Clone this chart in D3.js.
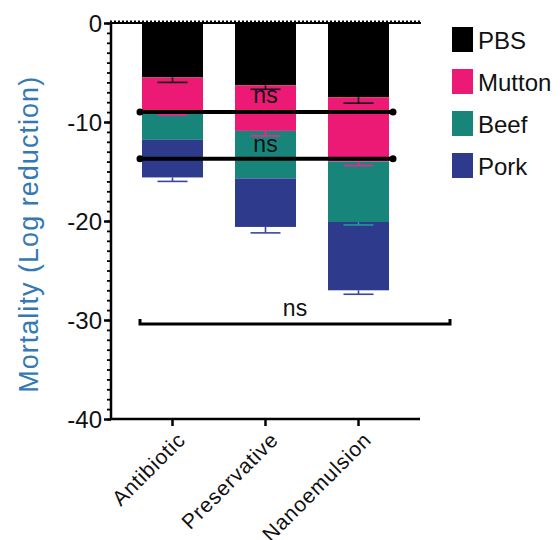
<!DOCTYPE html>
<html>
<head>
<meta charset="utf-8">
<script src="https://cdn.jsdelivr.net/npm/d3@7"></script>
<style>
  body { margin: 0; background: #fff; }
  text { font-family: "Liberation Sans", Arial, sans-serif; }
</style>
</head>
<body>
<div id="chart"></div>
<script>
// mortality per treatment, one array per meat (log reduction, stacked)
var categories = ["Antibiotic", "Preservative", "Nanoemulsion"];
var series = ["PBS", "Mutton", "Beef", "Pork"];
var pbs    = [-5.5, -6.3, -7.5];
var mutton = [-3.5, -4.6, -6.5];
var beef   = [-2.8, -4.8, -6.1];
var pork   = [-3.8, -4.9, -6.9];
var pbsErr    = [0.5, 0.4, 0.6];
var muttonErr = [0.3, 0.5, 0.4];
var beefErr   = [0, 0, 0.3];
var porkErr   = [0.4, 0.6, 0.4];
var yTicks = [0, -10, -20, -30, -40];
var colors = ["#000000", "#ec1a74", "#17857a", "#2e3a8c"];
// significance annotations: level, first and last category
var sigLevels = [-9.0, -13.7];
var sigText = ["ns", "ns"];
var bracketLevel = -30.4;
var bracketText = "ns";

var values = [pbs, mutton, beef, pork];
var errs = [pbsErr, muttonErr, beefErr, porkErr];

var width = 560, height = 540;
var svg = d3.select("#chart").append("svg")
    .attr("width", width)
    .attr("height", height);

var x = d3.scaleBand()
    .domain(categories)
    .range([126, 405])
    .paddingInner(0.344)
    .paddingOuter(0.172);
var y = d3.scaleLinear().domain([-40, 0]).range([419, 23]);
var color = d3.scaleOrdinal().domain(series).range(colors);

var table = categories.map(function (c, i) {
    var row = { cat: c };
    series.forEach(function (s, j) { row[s] = values[j][i]; });
    return row;
});
var stacked = d3.stack().keys(series).offset(d3.stackOffsetDiverging)(table);

// bars (negative stack: d[0] is the lower end)
var layers = svg.append("g").selectAll("g")
    .data(stacked)
    .enter().append("g")
    .attr("fill", function (d) { return color(d.key); });

layers.selectAll("rect")
    .data(function (d) { return d; })
    .enter().append("rect")
    .attr("x", function (d) { return x(d.data.cat); })
    .attr("width", x.bandwidth())
    .attr("y", function (d) { return y(d[1]); })
    .attr("height", function (d) { return y(d[0]) - y(d[1]); });

// error bars
var cap = 15;
stacked.forEach(function (layer, j) {
    layer.forEach(function (d, i) {
        var e = errs[j][i];
        if (!e) return;
        var cx = x(d.data.cat) + x.bandwidth() / 2;
        var g = svg.append("g")
            .attr("stroke", j === 0 ? "#111" : d3.color(colors[j]).brighter(0.5))
            .attr("stroke-width", 1.6);
        g.append("line").attr("x1", cx).attr("x2", cx)
            .attr("y1", y(d[0])).attr("y2", y(d[0] - e));
        g.append("line").attr("x1", cx - cap).attr("x2", cx + cap)
            .attr("y1", y(d[0] - e)).attr("y2", y(d[0] - e));
    });
});

// y axis
var yAxis = svg.append("g")
    .attr("transform", "translate(111,0)")
    .call(d3.axisLeft(y).tickValues(yTicks).tickSize(7).tickFormat(d3.format("d")));
yAxis.select(".domain").attr("stroke-width", 2.5).attr("d", "M0," + y(-40) + "V" + y(0));
yAxis.selectAll(".tick line").attr("stroke-width", 2.5);
yAxis.selectAll(".tick text")
    .attr("font-size", 24)
    .attr("x", -9)
    .attr("dy", "0.36em")
    .attr("fill", "#111")
    .text(function (d) { return d === 0 ? "0" : "-" + Math.abs(d); });
svg.append("g")
    .attr("transform", "translate(111,0)")
    .call(d3.axisLeft(y).ticks(40).tickSize(4).tickFormat(""))
    .call(function (g) { g.select(".domain").remove(); })
    .selectAll(".tick line").attr("stroke-width", 1.8);

// x axis at bottom
var xAxis = svg.append("g")
    .attr("transform", "translate(0," + y(-40) + ")")
    .call(d3.axisBottom(x).tickSize(7).tickSizeOuter(0));
xAxis.select(".domain").attr("stroke-width", 2.5).attr("d", "M110,0H420");
xAxis.selectAll(".tick line").attr("stroke-width", 2.5);
xAxis.selectAll(".tick text")
    .attr("font-size", 21)
    .attr("letter-spacing", 0.8)
    .attr("fill", "#111")
    .attr("text-anchor", "end")
    .attr("transform", "translate(6,14) rotate(-45)")
    .attr("y", 0)
    .attr("dy", "0.55em");

// zero line at the top with its tick marks
svg.append("line")
    .attr("x1", 110).attr("x2", 421)
    .attr("y1", y(0)).attr("y2", y(0))
    .attr("stroke", "#000").attr("stroke-width", 2);
svg.append("line")
    .attr("x1", 110).attr("x2", 421)
    .attr("y1", y(0) - 1.5).attr("y2", y(0) - 1.5)
    .attr("stroke", "#000").attr("stroke-width", 2)
    .attr("stroke-dasharray", "2,2");

// significance lines across all three bars
var sx0 = x(categories[0]) - 2;
var sx1 = x(categories[2]) + x.bandwidth() + 4;
var midCat = x(categories[1]) + x.bandwidth() / 2;
sigLevels.forEach(function (lv) {
    svg.append("line")
        .attr("x1", sx0).attr("x2", sx1)
        .attr("y1", y(lv)).attr("y2", y(lv))
        .attr("stroke", "#000").attr("stroke-width", 4)
        .attr("stroke-linecap", "round");
    [sx0, sx1].forEach(function (px) {
        svg.append("circle").attr("cx", px).attr("cy", y(lv)).attr("r", 3.5).attr("fill", "#000");
    });
});
svg.append("text").attr("x", midCat).attr("y", y(-8.1))
    .attr("text-anchor", "middle").attr("font-size", 23).attr("fill", "#111")
    .text(sigText[0]);
svg.append("text").attr("x", midCat).attr("y", y(-13.0))
    .attr("text-anchor", "middle").attr("font-size", 23).attr("fill", "#111")
    .text(sigText[1]);

// bottom bracket
var bx0 = x(categories[0]) - 2, bx1 = 450;
svg.append("path")
    .attr("d", "M" + bx0 + "," + (y(bracketLevel) - 5) + "V" + y(bracketLevel) +
        "H" + bx1 + "V" + (y(bracketLevel) - 5))
    .attr("fill", "none").attr("stroke", "#000").attr("stroke-width", 3);
svg.append("text").attr("x", (bx0 + bx1) / 2).attr("y", y(-29.6))
    .attr("text-anchor", "middle").attr("font-size", 23).attr("fill", "#111")
    .text(bracketText);

// axis title
svg.append("text")
    .attr("transform", "translate(38," + y(-21.4) + ") rotate(-90)")
    .attr("text-anchor", "middle")
    .attr("font-size", 27)
    .attr("fill", "#3479b3")
    .attr("textLength", 316)
    .attr("lengthAdjust", "spacing")
    .text("Mortality (Log reduction)");

// legend
var legend = svg.append("g").selectAll("g")
    .data(series)
    .enter().append("g")
    .attr("transform", function (d, i) { return "translate(452," + (27 + i * 42) + ")"; });
legend.append("rect")
    .attr("width", 21).attr("height", 25)
    .attr("fill", function (d) { return color(d); });
legend.append("text")
    .attr("x", 26).attr("y", 22)
    .attr("font-size", 24)
    .attr("fill", "#111")
    .text(function (d) { return d; });
</script>
</body>
</html>
